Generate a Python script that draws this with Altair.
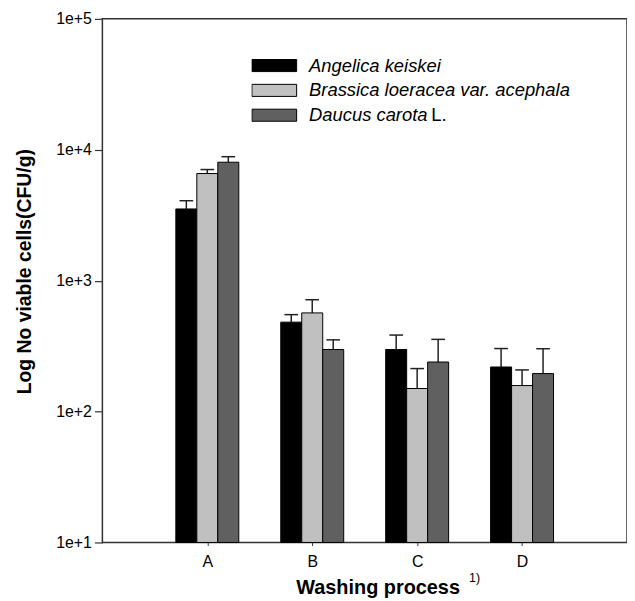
import altair as alt
import pandas as pd

groups = ["A", "B", "C", "D"]
series = ["Angelica keiskei", "Brassica loeracea var. acephala", "Daucus carota L."]
colors = ["#000000", "#c0c0c0", "#606060"]

means = {
    "Angelica keiskei": [3530, 482, 298, 219],
    "Brassica loeracea var. acephala": [6580, 567, 150, 158],
    "Daucus carota L.": [8030, 298, 239, 195],
}
errors = {
    "Angelica keiskei": [550, 68, 86, 84],
    "Brassica loeracea var. acephala": [480, 148, 63, 50],
    "Daucus carota L.": [820, 55, 117, 107],
}

FONT = "Liberation Sans"
LEG_FS = 18.5
bar_w = 0.2
cap_w = 0.065

rows = []
for si, s in enumerate(series):
    off = (si - 1) * bar_w
    for gi, g in enumerate(groups):
        c = gi + 1 + off
        m = means[s][gi]
        e = errors[s][gi]
        rows.append({
            "group": g, "series": s, "mean": m, "upper": m + e,
            "xc": c, "x0": c - bar_w / 2, "x1": c + bar_w / 2,
            "cx0": c - cap_w, "cx1": c + cap_w, "base": 10,
        })
df = pd.DataFrame(rows)

xscale = alt.Scale(domain=[0, 5], nice=False, zero=False)
yscale = alt.Scale(type="log", domain=[10, 100000], nice=False)

x_axis = alt.Axis(
    values=[1, 2, 3, 4],
    labelExpr="['', 'A', 'B', 'C', 'D', ''][datum.value]",
    title="Washing process",
    titleFont=FONT, titleFontSize=20, titleFontWeight="bold", titleColor="black",
    titleX=277, titleY=51, titleAlign="center", titleBaseline="alphabetic", titleAnchor="start",
    labelFont=FONT, labelFontSize=16, labelColor="black", labelPadding=8,
    tickSize=3, tickColor="#333", grid=False, domain=False,
)
y_axis = alt.Axis(
    values=[10, 100, 1000, 10000, 100000],
    labelExpr="'1e+' + round(log(datum.value) / LN10)",
    title="Log No viable cells(CFU/g)",
    titleFont=FONT, titleFontSize=19.5, titleFontWeight="bold", titleColor="black",
    titleX=-78, titleY=254, titleAngle=-90, titleAlign="center", titleBaseline="middle",
    labelFont=FONT, labelFontSize=16, labelColor="black", labelPadding=3,
    tickSize=8, tickColor="#333", tickWidth=1.2, grid=False, domain=False,
)

legend = alt.Legend(
    title=None, orient="none", legendX=150, legendY=34.5,
    symbolType="M-1,-0.27H1V0.27H-1Z", symbolSize=2025,
    symbolStrokeColor="black", symbolStrokeWidth=1, symbolOpacity=1,
    labelFont=FONT, labelFontSize=LEG_FS, labelFontStyle="italic", labelColor="black",
    labelExpr="datum.label == 'Daucus carota L.' ? 'Daucus carota' : datum.label",
    labelOffset=12, clipHeight=25, rowPadding=0, padding=0, labelLimit=400,
)

base = alt.Chart(df)

bars = base.mark_bar(stroke="black", strokeWidth=1, opacity=1).encode(
    x=alt.X("x0:Q", scale=xscale, axis=x_axis),
    x2="x1:Q",
    y=alt.Y("mean:Q", scale=yscale, axis=y_axis),
    y2="base:Q",
    fill=alt.Fill("series:N", scale=alt.Scale(domain=series, range=colors), legend=legend),
)

stems = base.mark_rule(color="#222", strokeWidth=1.5).encode(
    x="xc:Q", y="mean:Q", y2="upper:Q",
)
caps = base.mark_rule(color="#222", strokeWidth=1.5).encode(
    x="cx0:Q", x2="cx1:Q", y="upper:Q",
)

# upright authority "L." after the italic species name in the legend
auth = alt.Chart(pd.DataFrame({"t": ["L."]})).mark_text(
    font=FONT, fontSize=LEG_FS, align="left", baseline="middle", color="black"
).encode(text="t:N", x=alt.value(331), y=alt.value(34.5 + 2 * 25 + 12.5))

sup = alt.Chart(pd.DataFrame({"t": ["1)"]})).mark_text(
    font=FONT, fontSize=12.5, align="left", baseline="alphabetic", color="black"
).encode(text="t:N", x=alt.value(369), y=alt.value(567))

chart = alt.layer(stems, bars, caps, auth, sup).properties(
    width=528, height=527,
    autosize=alt.AutoSizeParams(type="none"),
    padding={"left": 95, "top": 9, "right": 0, "bottom": 57},
).configure_view(stroke="#333", strokeWidth=1.5)

chart.save("out.html", embed_options={"renderer": "svg", "actions": False})
